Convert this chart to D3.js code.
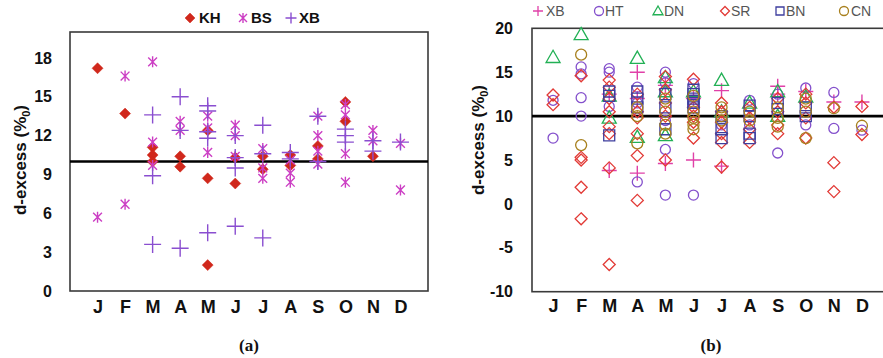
<!DOCTYPE html>
<html><head><meta charset="utf-8">
<script src="https://cdn.jsdelivr.net/npm/d3@7"></script>
<style>body{margin:0;background:#fff}svg{display:block}</style>
</head><body>
<svg id="c" width="883" height="358"></svg>
<script>
const months = ["J","F","M","A","M","J","J","A","S","O","N","D"];
const leftTicks = [0,3,6,9,12,15,18];
const rightTicks = [-10,-5,0,5,10,15,20];

// Panel (a): [month, d-excess]
const KH = [[1,17.2],[2,13.7],[3,11.1],[3,10.5],[3,10.0],[4,10.4],[4,9.6],[5,12.4],[5,8.7],[5,2.0],[6,10.3],[6,8.3],[7,10.4],[7,9.4],[8,10.5],[8,9.7],[9,11.2],[9,10.2],[10,14.6],[10,13.1],[11,10.4]];
const BS = [[1,5.7],[2,16.6],[2,6.7],[3,17.7],[3,11.5],[3,9.7],[4,13.1],[4,12.4],[5,13.5],[5,12.6],[5,10.7],[6,12.8],[6,12.0],[6,10.4],[7,11.0],[7,9.5],[7,8.7],[8,10.1],[8,9.1],[8,8.4],[9,13.5],[9,12.0],[9,10.8],[9,9.8],[10,14.4],[10,13.6],[10,10.6],[10,8.4],[11,12.4],[11,11.6],[12,11.4],[12,7.8]];
const XBa = [[3,13.6],[3,8.9],[3,3.6],[4,15.0],[4,12.4],[4,3.3],[5,14.3],[5,13.9],[5,12.3],[5,11.8],[5,4.5],[6,12.0],[6,10.3],[6,9.5],[6,5.0],[7,12.8],[7,10.6],[7,4.1],[8,10.7],[8,10.2],[9,13.5],[9,10.0],[10,12.5],[10,12.0],[10,11.5],[11,11.6],[11,10.8],[12,11.5]];

// Panel (b): [month, d-excess]
const XBb = [[3,3.8],[3,12.5],[4,15.0],[4,3.5],[4,12.0],[5,4.6],[5,13.5],[6,5.0],[6,12.0],[7,12.9],[7,4.3],[9,13.4],[9,12.5],[10,12.8],[11,11.6],[12,11.6]];
const HT = [[1,11.8],[1,7.5],[2,15.6],[2,14.8],[2,12.1],[2,10.0],[3,15.4],[3,15.0],[3,11.1],[4,13.3],[4,11.5],[4,2.5],[5,15.0],[5,13.8],[5,9.5],[5,6.2],[5,1.0],[6,13.7],[6,11.5],[6,1.0],[7,9.0],[8,11.8],[8,9.0],[9,12.5],[9,5.8],[10,13.2],[10,9.0],[11,12.7],[11,8.6],[12,8.4]];
const DN = [[1,16.7],[2,19.3],[3,12.3],[3,9.8],[4,16.6],[4,7.6],[5,14.4],[5,12.8],[5,7.8],[6,12.8],[7,14.1],[7,10.5],[8,11.5],[9,12.8],[9,10.0],[10,12.2]];
const SR = [[1,12.4],[1,11.3],[2,14.6],[2,5.3],[2,5.0],[2,1.9],[2,-1.7],[3,14.1],[3,13.3],[3,12.0],[3,10.5],[3,8.8],[3,8.0],[3,4.1],[3,-6.9],[4,12.5],[4,10.5],[4,9.8],[4,8.0],[4,5.5],[4,0.4],[5,14.5],[5,13.0],[5,11.5],[5,10.0],[5,5.0],[6,14.2],[6,11.0],[6,10.0],[6,9.3],[6,7.5],[7,11.5],[7,10.5],[7,9.3],[7,8.0],[7,7.0],[7,4.2],[8,11.0],[8,9.8],[8,8.5],[8,7.0],[9,12.0],[9,10.5],[9,9.0],[9,8.0],[10,12.5],[10,11.5],[10,9.8],[10,7.5],[11,11.0],[11,4.7],[11,1.4],[12,11.1],[12,7.9]];
const BN = [[3,12.8],[3,12.3],[3,7.8],[4,12.8],[4,12.0],[4,11.0],[5,12.5],[5,11.0],[5,8.5],[6,13.0],[6,12.5],[6,12.0],[6,11.5],[6,11.0],[7,10.0],[7,8.5],[7,7.5],[8,11.2],[8,10.0],[8,8.0],[8,7.5],[9,11.5],[9,10.8],[10,11.0],[10,10.0]];
const CN = [[2,17.0],[2,6.7],[4,11.0],[4,10.0],[4,6.9],[5,12.0],[5,10.5],[5,9.0],[5,8.0],[6,12.3],[6,10.5],[6,9.8],[6,9.0],[6,8.5],[7,11.0],[7,10.0],[7,9.5],[8,10.5],[8,9.5],[9,11.0],[9,9.8],[9,8.8],[10,12.0],[10,10.5],[10,7.5],[11,10.9],[12,8.9]];

const svg = d3.select("#c");
const SANS = "'Liberation Sans', Arial, sans-serif";

const shapes = {
  diamond: r => `M0,${-r}L${r},0L0,${r}L${-r},0Z`,
  star: r => `M${-r*0.8},${-r*0.8}L${r*0.8},${r*0.8}M${-r*0.8},${r*0.8}L${r*0.8},${-r*0.8}M0,${-r}L0,${r}`,
  plus: r => `M${-r},0L${r},0M0,${-r}L0,${r}`,
  circle: r => `M${r},0A${r},${r} 0 1,1 ${-r},0A${r},${r} 0 1,1 ${r},0Z`,
  triangle: r => `M0,${-r}L${r},${r*0.75}L${-r},${r*0.75}Z`,
  square: r => `M${-r},${-r}H${r}V${r}H${-r}Z`
};

function drawPanel(p) {
  const g = svg.append("g");
  const x = d3.scaleLinear().domain(p.xDomain).range([p.left, p.right]);
  const y = d3.scaleLinear().domain(p.yDomain).range([p.bottom, p.top]);

  g.append("rect").attr("x", p.left).attr("y", p.top)
    .attr("width", p.right - p.left + (p.openRight ? 10 : 0)).attr("height", p.bottom - p.top)
    .attr("fill", "none").attr("stroke", "#3a3a3a").attr("stroke-width", 1.6);

  const ya = g.append("g").attr("transform", `translate(${p.left},0)`)
    .call(d3.axisLeft(y).tickValues(p.yTicks).tickFormat(d => String(d)).tickSize(0).tickPadding(p.yPad));
  ya.select(".domain").remove();
  ya.selectAll("text").attr("font-family", SANS).attr("font-weight", "bold")
    .attr("font-size", p.yFont).attr("fill", "#111");

  const xa = g.append("g").attr("transform", `translate(0,${p.bottom})`)
    .call(d3.axisBottom(x).tickValues(d3.range(1, 13)).tickFormat(i => months[i - 1]).tickSize(0).tickPadding(p.xPad));
  xa.select(".domain").remove();
  xa.selectAll("text").attr("font-family", SANS).attr("font-weight", "bold")
    .attr("font-size", 18).attr("fill", "#111");

  g.append("line").attr("x1", p.left).attr("x2", p.openRight ? p.right + 10 : p.right)
    .attr("y1", y(10)).attr("y2", y(10)).attr("stroke", "#000").attr("stroke-width", 2.6);

  const t = g.append("text")
    .attr("transform", `translate(${p.titleX},${p.titleY}) rotate(-90)`)
    .attr("text-anchor", "middle").attr("font-family", SANS).attr("font-weight", "bold")
    .attr("font-size", 17).attr("fill", "#111");
  t.append("tspan").text("d-excess (%");
  t.append("tspan").text("0").attr("font-size", 11).attr("dy", 4);
  t.append("tspan").text(")").attr("dy", -4);

  p.series.forEach(s => {
    g.append("g").selectAll("path").data(s.data).join("path")
      .attr("transform", d => `translate(${x(d[0])},${y(d[1])})`)
      .attr("d", shapes[s.shape](s.r))
      .attr("fill", s.fill ? s.color : "none")
      .attr("stroke", s.color).attr("stroke-width", s.sw);
  });

  svg.append("text").attr("x", p.capX).attr("y", 351).attr("text-anchor", "middle")
    .attr("font-family", "'Liberation Serif', 'Times New Roman', serif").attr("font-weight", "bold")
    .attr("font-size", 17).attr("fill", "#111").text(p.caption);

  p.legend.forEach(l => {
    svg.append("path").attr("transform", `translate(${l.mx},${p.legY})`)
      .attr("d", shapes[l.shape](l.r)).attr("fill", l.fill ? l.color : "none")
      .attr("stroke", l.color).attr("stroke-width", l.sw);
    svg.append("text").attr("x", l.tx).attr("y", p.legY).attr("dy", "0.36em")
      .attr("font-family", SANS).attr("font-weight", p.legBold ? "bold" : "normal")
      .attr("font-size", p.legFont).attr("fill", p.legBold ? "#111" : "#555").text(l.label);
  });
}

const cKH = "#d0281c", cBS = "#cc3fc4", cXBa = "#8a4ed0";
drawPanel({
  left: 70, right: 428, top: 32, bottom: 291,
  xDomain: [0, 13], yDomain: [0, 20], yTicks: leftTicks,
  yPad: 18, xPad: 9, yFont: 16,
  titleX: 26, titleY: 160, capX: 249, caption: "(a)",
  series: [
    {data: KH, shape: "diamond", r: 5.5, color: cKH, fill: true, sw: 0.5},
    {data: BS, shape: "star", r: 5.5, color: cBS, fill: false, sw: 1.4},
    {data: XBa, shape: "plus", r: 8.5, color: cXBa, fill: false, sw: 1.4}
  ],
  legY: 18, legFont: 15, legBold: true,
  legend: [
    {mx: 190, tx: 199, label: "KH", shape: "diamond", r: 5, color: cKH, fill: true, sw: 0.5},
    {mx: 243, tx: 251, label: "BS", shape: "star", r: 5, color: cBS, fill: false, sw: 1.4},
    {mx: 291, tx: 299, label: "XB", shape: "plus", r: 5.5, color: cXBa, fill: false, sw: 1.4}
  ]
});

const cXB = "#e040a8", cHT = "#8450cc", cDN = "#22b055", cSR = "#e23a36", cBN = "#3e3e9e", cCN = "#a8801e";
drawPanel({
  left: 532, right: 883, top: 28.3, bottom: 291.7, openRight: true,
  xDomain: [0.25, 12.75], yDomain: [-10, 20], yTicks: rightTicks,
  yPad: 19, xPad: 7.5, yFont: 16,
  titleX: 484, titleY: 140, capX: 711, caption: "(b)",
  series: [
    {data: XBb, shape: "plus", r: 7.5, color: cXB, fill: false, sw: 1.4},
    {data: HT, shape: "circle", r: 5, color: cHT, fill: false, sw: 1.3},
    {data: DN, shape: "triangle", r: 7, color: cDN, fill: false, sw: 1.3},
    {data: SR, shape: "diamond", r: 6, color: cSR, fill: false, sw: 1.3},
    {data: BN, shape: "square", r: 5.5, color: cBN, fill: false, sw: 1.3},
    {data: CN, shape: "circle", r: 5.5, color: cCN, fill: false, sw: 1.3}
  ],
  legY: 11, legFont: 14, legBold: false,
  legend: [
    {mx: 538, tx: 546, label: "XB", shape: "plus", r: 5, color: cXB, fill: false, sw: 1.3},
    {mx: 599, tx: 605, label: "HT", shape: "circle", r: 4.5, color: cHT, fill: false, sw: 1.3},
    {mx: 658, tx: 664, label: "DN", shape: "triangle", r: 5, color: cDN, fill: false, sw: 1.3},
    {mx: 725, tx: 731, label: "SR", shape: "diamond", r: 4.5, color: cSR, fill: false, sw: 1.3},
    {mx: 780, tx: 786, label: "BN", shape: "square", r: 4, color: cBN, fill: false, sw: 1.3},
    {mx: 844, tx: 851, label: "CN", shape: "circle", r: 4.5, color: cCN, fill: false, sw: 1.3}
  ]
});
</script>
</body></html>
